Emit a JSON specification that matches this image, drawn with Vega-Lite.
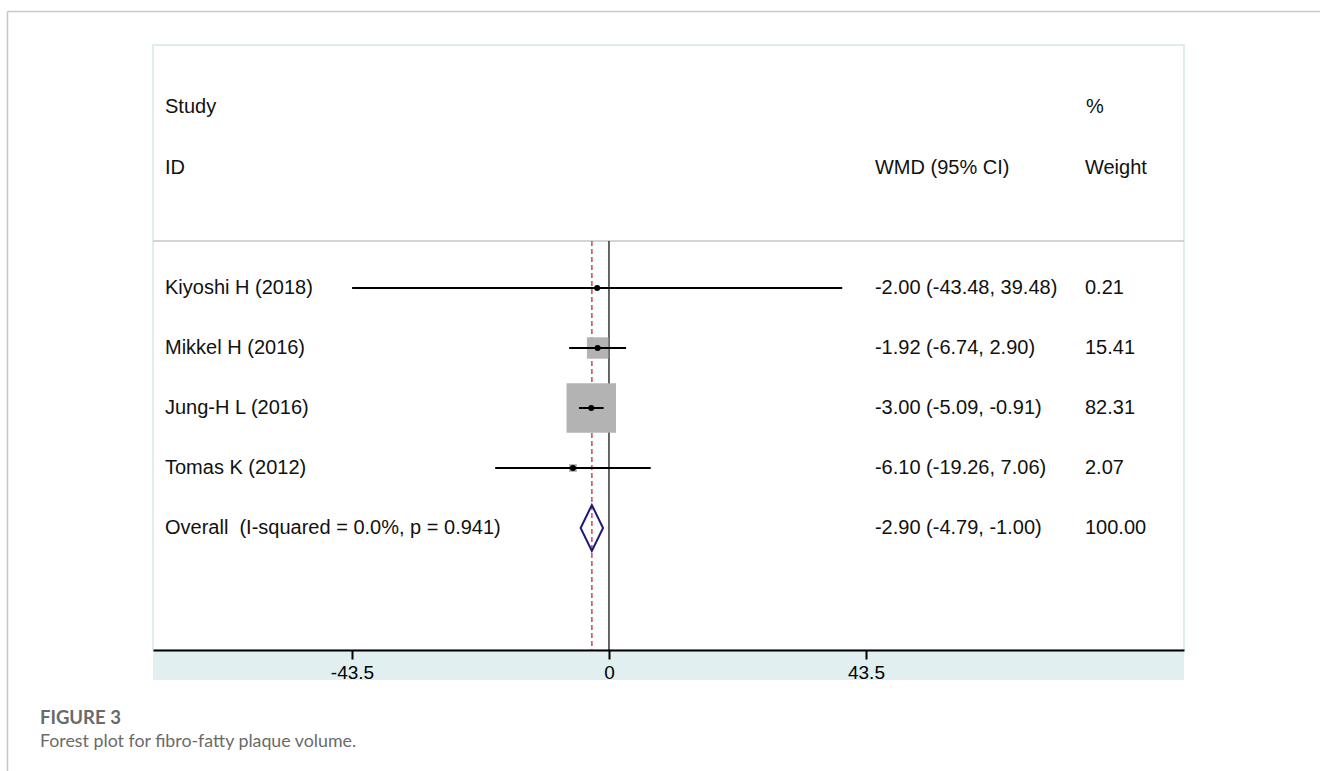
{
  "$schema": "https://vega.github.io/schema/vega-lite/v6.json",
  "width": 1031,
  "height": 605,
  "autosize": {"type": "none"},
  "padding": {"left": 153, "top": 45, "right": 136, "bottom": 121},
  "background": "white",
  "config": {
    "view": {"stroke": "#deeded", "strokeWidth": 2},
    "font": "Liberation Sans"
  },
  "datasets": {
    "studies": [
      {"study": "Kiyoshi H (2018)", "row": 1, "wmd": -2.00, "lo": -43.48, "hi": 39.48, "weight": 0.21, "ci": "-2.00 (-43.48, 39.48)", "w": "0.21"},
      {"study": "Mikkel H (2016)", "row": 2, "wmd": -1.92, "lo": -6.74, "hi": 2.90, "weight": 15.41, "ci": "-1.92 (-6.74, 2.90)", "w": "15.41"},
      {"study": "Jung-H L (2016)", "row": 3, "wmd": -3.00, "lo": -5.09, "hi": -0.91, "weight": 82.31, "ci": "-3.00 (-5.09, -0.91)", "w": "82.31"},
      {"study": "Tomas K (2012)", "row": 4, "wmd": -6.10, "lo": -19.26, "hi": 7.06, "weight": 2.07, "ci": "-6.10 (-19.26, 7.06)", "w": "2.07"},
      {"study": "Overall\u00a0 (I-squared = 0.0%, p = 0.941)", "row": 5, "wmd": -2.90, "lo": -4.79, "hi": -1.00, "weight": 100.00, "ci": "-2.90 (-4.79, -1.00)", "w": "100.00", "overall": true}
    ]
  },
  "data": {"name": "studies"},
  "layer": [
    {
      "data": {"values": [{}]},
      "mark": {"type": "rect", "fill": "#e1eff0"},
      "encoding": {
        "x": {"datum": -77.18, "type": "quantitative", "title": null,
              "scale": {"domain": [-77.18, 97.33], "nice": false, "zero": false}},
        "x2": {"datum": 97.33},
        "y": {"datum": 7.0333, "type": "quantitative",
              "scale": {"domain": [-3.05, 7.0333], "reverse": true, "nice": false, "zero": false},
              "axis": null},
        "y2": {"datum": 7.5333}
      }
    },
    {
      "data": {"values": [{}]},
      "mark": {"type": "rule", "stroke": "#c8c8c8", "strokeWidth": 1.5},
      "encoding": {
        "x": {"datum": -101.81, "type": "quantitative", "title": null},
        "y": {"datum": -3.6083, "type": "quantitative", "axis": null},
        "y2": {"datum": 10}
      }
    },
    {
      "data": {"values": [{}]},
      "mark": {"type": "rule", "stroke": "#c8c8c8", "strokeWidth": 1.5},
      "encoding": {
        "x": {"datum": -101.81, "type": "quantitative", "title": null},
        "x2": {"datum": 130},
        "y": {"datum": -3.6083, "type": "quantitative", "axis": null}
      }
    },
    {
      "data": {"values": [{}]},
      "mark": {"type": "rule", "stroke": "#c6c6c6", "strokeWidth": 1.5},
      "encoding": {
        "x": {"datum": -77.18, "type": "quantitative", "title": null},
        "x2": {"datum": 97.33},
        "y": {"datum": 0.2167, "type": "quantitative", "axis": null}
      }
    },
    {
      "data": {"values": [{}]},
      "mark": {"type": "rule", "stroke": "#333333", "strokeWidth": 1.5},
      "encoding": {
        "x": {"datum": 0, "type": "quantitative", "title": null},
        "y": {"datum": 0.2167, "type": "quantitative", "axis": null},
        "y2": {"datum": 7.0333}
      }
    },
    {
      "transform": [{"filter": "datum.overall"}],
      "mark": {"type": "rule", "stroke": "#d8606e", "strokeWidth": 1.8, "strokeDash": [5, 3]},
      "encoding": {
        "x": {"field": "wmd", "type": "quantitative", "title": null},
        "y": {"datum": 0.2167, "type": "quantitative", "axis": null},
        "y2": {"datum": 7.0333}
      }
    },
    {
      "transform": [{"filter": "!datum.overall"}],
      "mark": {"type": "point", "shape": "square", "filled": true, "color": "#b3b3b3", "opacity": 1, "strokeWidth": 0},
      "encoding": {
        "x": {"field": "wmd", "type": "quantitative", "title": null},
        "y": {"field": "row", "type": "quantitative", "axis": null},
        "size": {"field": "weight", "type": "quantitative", "scale": {"type": "linear", "domain": [0, 82.31], "range": [0, 2450], "zero": true}, "legend": null}
      }
    },
    {
      "transform": [{"filter": "!datum.overall"}],
      "mark": {"type": "rule", "stroke": "#000000", "strokeWidth": 2},
      "encoding": {
        "x": {"field": "lo", "type": "quantitative", "title": null,
              "axis": {"values": [-43.5, 0, 43.5], "labelExpr": "toString(datum.value)", "title": null, "grid": false,
                       "domainColor": "#000000", "domainWidth": 2, "ticks": true, "tickColor": "#000000", "tickWidth": 2, "tickSize": 9, "tickOpacity": 1,
                       "labelFontSize": 19, "labelColor": "#000000", "labelPadding": 4, "labelFont": "Liberation Sans",
                       "labelFlush": false, "zindex": 1}},
        "x2": {"field": "hi"},
        "y": {"field": "row", "type": "quantitative", "axis": null}
      }
    },
    {
      "transform": [{"filter": "!datum.overall"}],
      "mark": {"type": "point", "shape": "circle", "filled": true, "color": "#000000", "opacity": 1, "size": 36},
      "encoding": {
        "x": {"field": "wmd", "type": "quantitative", "title": null},
        "y": {"field": "row", "type": "quantitative", "axis": null}
      }
    },
    {
      "transform": [{"filter": "datum.overall"}],
      "mark": {"type": "point", "shape": "M-0.487,0L0,-1L0.487,0L0,1Z", "filled": false, "color": "#1c1c78", "opacity": 1, "strokeWidth": 2, "size": 2116},
      "encoding": {
        "x": {"field": "wmd", "type": "quantitative", "title": null},
        "y": {"field": "row", "type": "quantitative", "axis": null}
      }
    },
    {
      "mark": {"type": "text", "align": "left", "baseline": "middle", "fontSize": 20, "color": "#111111"},
      "encoding": {
        "x": {"datum": -75.15, "type": "quantitative", "title": null},
        "y": {"field": "row", "type": "quantitative", "axis": null},
        "text": {"field": "study"}
      }
    },
    {
      "mark": {"type": "text", "align": "left", "baseline": "middle", "fontSize": 20, "color": "#111111"},
      "encoding": {
        "x": {"datum": 45.02, "type": "quantitative", "title": null},
        "y": {"field": "row", "type": "quantitative", "axis": null},
        "text": {"field": "ci"}
      }
    },
    {
      "mark": {"type": "text", "align": "left", "baseline": "middle", "fontSize": 20, "color": "#111111"},
      "encoding": {
        "x": {"datum": 80.57, "type": "quantitative", "title": null},
        "y": {"field": "row", "type": "quantitative", "axis": null},
        "text": {"field": "w"}
      }
    },
    {
      "data": {"values": [{}]},
      "mark": {"type": "text", "text": "Study", "align": "left", "baseline": "middle", "fontSize": 20, "color": "#111111"},
      "encoding": {
        "x": {"datum": -75.15, "type": "quantitative", "title": null},
        "y": {"datum": -2.0167, "type": "quantitative", "axis": null}
      }
    },
    {
      "data": {"values": [{}]},
      "mark": {"type": "text", "text": "ID", "align": "left", "baseline": "middle", "fontSize": 20, "color": "#111111"},
      "encoding": {
        "x": {"datum": -75.15, "type": "quantitative", "title": null},
        "y": {"datum": -1.0, "type": "quantitative", "axis": null}
      }
    },
    {
      "data": {"values": [{}]},
      "mark": {"type": "text", "text": "WMD (95% CI)", "align": "left", "baseline": "middle", "fontSize": 20, "color": "#111111"},
      "encoding": {
        "x": {"datum": 45.02, "type": "quantitative", "title": null},
        "y": {"datum": -1.0, "type": "quantitative", "axis": null}
      }
    },
    {
      "data": {"values": [{}]},
      "mark": {"type": "text", "text": "%", "align": "left", "baseline": "middle", "fontSize": 20, "color": "#111111"},
      "encoding": {
        "x": {"datum": 80.74, "type": "quantitative", "title": null},
        "y": {"datum": -2.0167, "type": "quantitative", "axis": null}
      }
    },
    {
      "data": {"values": [{}]},
      "mark": {"type": "text", "text": "Weight", "align": "left", "baseline": "middle", "fontSize": 20, "color": "#111111"},
      "encoding": {
        "x": {"datum": 80.57, "type": "quantitative", "title": null},
        "y": {"datum": -1.0, "type": "quantitative", "axis": null}
      }
    },
    {
      "data": {"values": [{}]},
      "mark": {"type": "text", "text": "FIGURE 3", "align": "left", "baseline": "alphabetic", "fontSize": 18.5, "font": "Lato", "fontWeight": "bold", "color": "#6a6a6a"},
      "encoding": {
        "x": {"datum": -96.31, "type": "quantitative", "title": null},
        "y": {"datum": 8.2667, "type": "quantitative", "axis": null}
      }
    },
    {
      "data": {"values": [{}]},
      "mark": {"type": "text", "text": "Forest plot for fibro-fatty plaque volume.", "align": "left", "baseline": "alphabetic", "fontSize": 17.8, "font": "Lato", "color": "#6a6a6a"},
      "encoding": {
        "x": {"datum": -96.31, "type": "quantitative", "title": null},
        "y": {"datum": 8.65, "type": "quantitative", "axis": null}
      }
    }
  ]
}
